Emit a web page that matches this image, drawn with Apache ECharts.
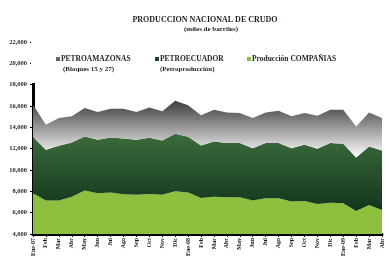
<!DOCTYPE html>
<html>
<head>
<meta charset="utf-8">
<script src="https://cdn.jsdelivr.net/npm/echarts@6/dist/echarts.min.js"></script>
<style>
  html, body { margin: 0; padding: 0; background: #fff; }
  #chart { width: 385px; height: 259px; }
</style>
</head>
<body>
<div id="chart"></div>
<script>
// meses ene-07 .. abr-09
const months = ["Ene-07", "Feb", "Mar", "Abr", "May", "Jun", "Jul", "Ago", "Sep", "Oct", "Nov", "Dic",
  "Ene-08", "Feb", "Mar", "Abr", "May", "Jun", "Jul", "Ago", "Sep", "Oct", "Nov", "Dic",
  "Ene-09", "Feb", "Mar", "Abr"];
const companias = [7830, 7130, 7130, 7500, 8070, 7830, 7880, 7730, 7670, 7760, 7670, 8000,
  7890, 7380, 7500, 7450, 7450, 7130, 7350, 7350, 7040, 7100, 6820, 6940,
  6880, 6160, 6730, 6260];
const petroecuador = [5260, 4770, 5140, 5080, 5080, 5000, 5170, 5230, 5160, 5260, 5100, 5400,
  5230, 4920, 5180, 5070, 5070, 4920, 5170, 5170, 5010, 5260, 5170, 5580,
  5580, 5010, 5470, 5570];
const petroamazonas = [3030, 2340, 2600, 2450, 2660, 2600, 2700, 2790, 2600, 2850, 2730, 3100,
  2960, 2830, 2970, 2880, 2820, 2820, 2880, 3040, 2980, 2980, 3100, 3130,
  3190, 2910, 3200, 3040];
const yTicks = { min: 4000, max: 22000, step: 2000 };

const serif = "Liberation Serif";
const txt = "#1b2419";

const chart = echarts.init(document.getElementById("chart"));

function legendAt(name, left, color) {
  return {
    data: [name],
    left: left,
    top: 55,
    z: 200,
    padding: 0,
    itemWidth: 4,
    itemHeight: 4,
    icon: "rect",
    itemStyle: { color: color },
    textStyle: { fontFamily: serif, fontWeight: "bold", fontSize: 7.5, color: txt, padding: [0, 0, 0, -4] },
    selectedMode: false
  };
}

chart.setOption({
  animation: false,
  title: [
    {
      text: "PRODUCCION NACIONAL DE CRUDO",
      left: 200,
      top: 11,
      textAlign: "center",
      textStyle: { fontFamily: serif, fontWeight: "bold", fontSize: 8, color: txt }
    },
    {
      text: "(miles de barriles)",
      left: 206,
      top: 21,
      textAlign: "center",
      textStyle: { fontFamily: serif, fontWeight: "bold", fontSize: 7, color: txt }
    }
  ],
  legend: [
    legendAt("PETROAMAZONAS", 56, "#666"),
    legendAt("PETROECUADOR", 155, "#1f4024"),
    legendAt("Producción COMPAÑIAS", 247, "#8cc13f")
  ],
  graphic: [
    { type: "rect", z: 100, shape: { x: 31, y: 36, width: 354, height: 47 }, style: { fill: "#fff" } },
    { type: "text", z: 201, left: 63, top: 66, style: { text: "(Bloques 15 y 27)", fontFamily: serif, fontWeight: "bold", fontSize: 7, fill: txt } },
    { type: "text", z: 201, left: 160, top: 66, style: { text: "(Petroproducción)", fontFamily: serif, fontWeight: "bold", fontSize: 7, fill: txt } }
  ],
  grid: { left: 33, right: 1, top: 42, bottom: 25, containLabel: false },
  xAxis: {
    type: "category",
    data: months,
    boundaryGap: false,
    axisLine: { lineStyle: { color: "#000", width: 3 } },
    axisTick: { show: true, length: 3, lineStyle: { color: "#000" }, interval: 0 },
    axisLabel: {
      interval: 0, rotate: 90, margin: 4,
      fontFamily: serif, fontWeight: "bold", fontSize: 6, color: txt
    }
  },
  yAxis: {
    type: "value",
    min: yTicks.min,
    max: yTicks.max,
    interval: yTicks.step,
    splitLine: { show: false },
    axisLine: { show: true, lineStyle: { color: "#000", width: 3 } },
    axisTick: { show: true, length: 3, lineStyle: { color: "#000" } },
    axisLabel: {
      margin: 6,
      fontFamily: serif, fontWeight: "bold", fontSize: 6.5, color: txt,
      formatter: (v) => v.toLocaleString("en-US")
    }
  },
  series: [
    {
      name: "Producción COMPAÑIAS",
      type: "line",
      stack: "total",
      data: companias,
      symbol: "none",
      lineStyle: { width: 0 },
      areaStyle: { color: "#8dc03f", opacity: 1 }
    },
    {
      name: "PETROECUADOR",
      type: "line",
      stack: "total",
      data: petroecuador,
      symbol: "none",
      lineStyle: { width: 0 },
      areaStyle: {
        opacity: 1,
        color: new echarts.graphic.LinearGradient(0, 0, 0, 1, [
          { offset: 0, color: "#3c6c3c" },
          { offset: 1, color: "#12351b" }
        ])
      }
    },
    {
      name: "PETROAMAZONAS",
      type: "line",
      stack: "total",
      data: petroamazonas,
      symbol: "none",
      lineStyle: { width: 0 },
      areaStyle: {
        opacity: 1,
        color: new echarts.graphic.LinearGradient(0, 0, 0, 1, [
          { offset: 0, color: "#3c3c3c" },
          { offset: 1, color: "#ffffff" }
        ])
      }
    }
  ]
});
</script>
</body>
</html>
